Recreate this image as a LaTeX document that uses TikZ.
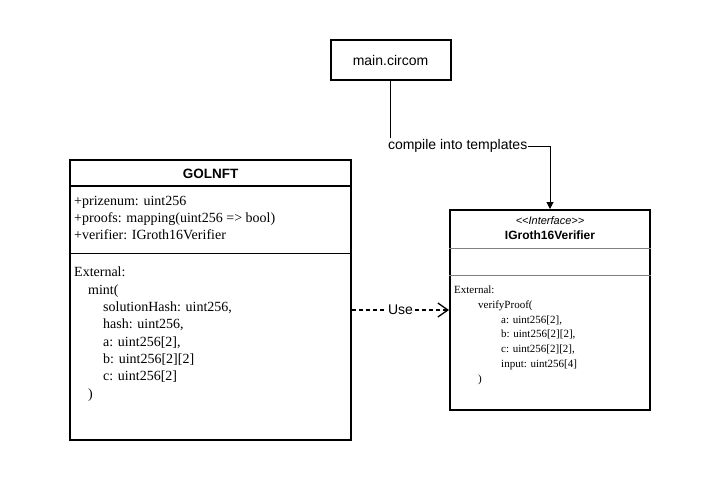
\documentclass[tikz,border=0pt]{standalone}
\usepackage{fontspec}
\setmainfont{Liberation Serif}
\setsansfont{Liberation Sans}
\usetikzlibrary{positioning, arrows.meta, calc}
\definecolor{sep}{RGB}{128, 128, 128}
\tikzstyle{box} = [draw=black, rectangle, line width=2pt, inner sep=0, fill=white]
\tikzstyle{separator} = [sep, line width=1pt]
\tikzstyle{arrow} = [black, -{Triangle[length=7pt, width=7pt]}, line width=1pt]
\tikzstyle{usearrow} = [black, dash pattern=on 4pt off 3pt, -{Straight Barb[length=10pt, width=14pt]}, line width=1.3pt]
\newcommand{\tikzclassnode}[2]{\node[box, minimum width=#1, minimum height=#2]}
\newcommand{\tikztextnode}[1]{\node[
  draw=none, inner sep=0, anchor=north west, align=left, font=#1
]}

\begin{document}
\begin{tikzpicture}[x=1pt, y=-1pt]
    \useasboundingbox (0, 0) rectangle (720, 480);

    % nodes
    \node[box, minimum width=120pt, minimum height=40pt, font=\sffamily\fontsize{14}{16}\selectfont]
      at (390.5, 60) (circom) {main.circom};
    \tikzclassnode{281pt}{280pt} at (210.5, 300) (golnft) {};
    \tikzclassnode{200pt}{200pt} at (550, 310)   (igroth) {};

    % GOLNFT
    \node[font=\sffamily\bfseries\fontsize{13.5}{16}\selectfont] at (210.5, 174) (golnfttitle) {GOLNFT};
    \draw[separator, black, line width=1.5pt] ($(golnft.north west)+(0, 27)$) -- ($(golnft.north east)+(0, 27)$);
    \draw[separator, black] ($(golnft.north west)+(0, 94)$) -- ($(golnft.north east)+(0, 94)$);
    \tikztextnode{\fontsize{14}{17}\selectfont} at ($(golnft.north west)+(5, 37)$) (golnftattr)
      {+prizenum: uint256\\+proofs: mapping(uint256 => bool)\\+verifier: IGroth16Verifier};
    \tikztextnode{\fontsize{14}{17.3}\selectfont} at ($(golnft.north west)+(5, 108)$) (golnftops)
      {External:\\
       \hspace*{14pt}mint(\\
       \hspace*{29pt}solutionHash: uint256,\\
       \hspace*{29pt}hash: uint256,\\
       \hspace*{29pt}a: uint256[2],\\
       \hspace*{29pt}b: uint256[2][2]\\
       \hspace*{29pt}c: uint256[2]\\
       \hspace*{14pt})};

    % IGroth16Verifier
    \node[align=center, font=\sffamily\fontsize{11}{15}\selectfont] at (550, 228) (igrothtitle)
      {\textit{<\kern0pt<Interface>\kern0pt>}\\\textbf{\fontsize{12}{15}\selectfont IGroth16Verifier}};
    \draw[separator] ($(igroth.north west)+(0, 39)$) -- ($(igroth.north east)+(0, 39)$);
    \draw[separator] ($(igroth.north west)+(0, 66)$) -- ($(igroth.north east)+(0, 66)$);
    \tikztextnode{\fontsize{11}{14.7}\selectfont} at ($(igroth.north west)+(5, 77)$) (igrothops)
      {External:\\
       \hspace*{24pt}verifyProof(\\
       \hspace*{47pt}a: uint256[2],\\
       \hspace*{47pt}b: uint256[2][2],\\
       \hspace*{47pt}c: uint256[2][2],\\
       \hspace*{47pt}input: uint256[4]\\
       \hspace*{24pt})};

    % arrows
    \draw[arrow] (circom.south) -- ++(0, 65)
      node[fill=white, anchor=west, xshift=-4pt, inner sep=1pt, font=\sffamily\fontsize{14}{16}\selectfont] (compile)
      {compile into templates} -| (igroth.north);
    \draw[usearrow] (golnft.east |- igroth.west) -- (igroth.west)
      node[midway, fill=white, inner sep=1pt, font=\sffamily\fontsize{14}{16}\selectfont] (use) {Use};
  \end{tikzpicture}
\end{document}
